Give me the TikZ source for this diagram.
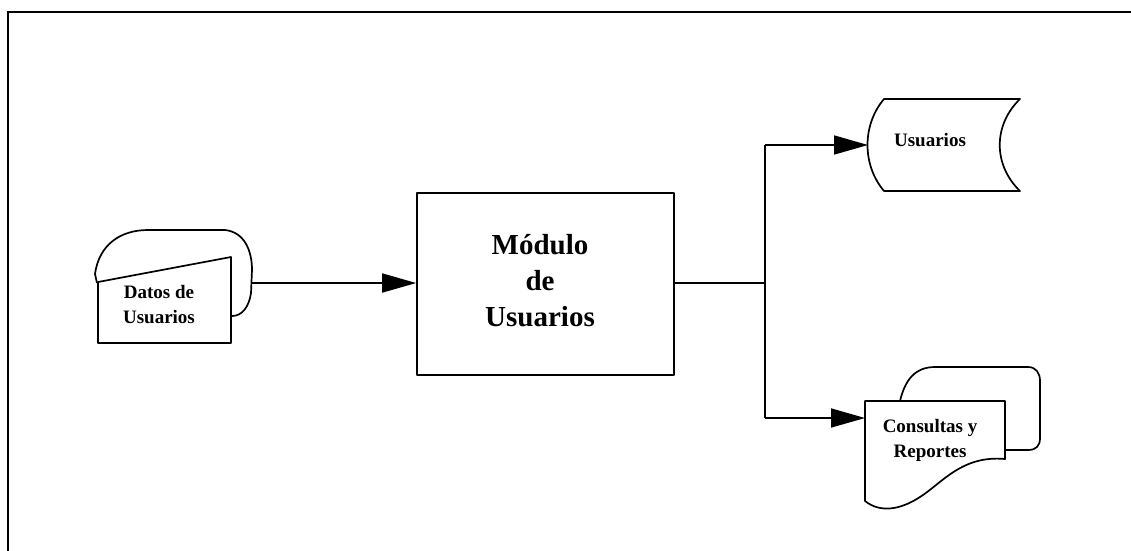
\documentclass[tikz,border=0pt]{standalone}
\usepackage{fontspec}
\setmainfont{Liberation Serif}
\usetikzlibrary{arrows.meta}
\tikzset{
  ln/.style={line width=1.7pt, line join=round},
  arr/.style={ln, -{Triangle[length=34pt,width=19pt]}},
  small/.style={font=\bfseries\fontsize{19}{25}\selectfont, align=center, inner sep=0pt},
  big/.style={font=\bfseries\fontsize{29}{36}\selectfont, align=center, inner sep=0pt},
}
\begin{document}
\begin{tikzpicture}[x=1pt,y=-1pt]
\useasboundingbox (0,0) rectangle (1131,550);
% frame
\draw[line width=1.6pt] (8,560) -- (8,12) -- (1140,12);

% Datos de Usuarios (back card + front manual input)
\draw[ln] (97,283) -- (95,274) .. controls (99,245) and (120,230) .. (148,230) -- (225,230)
  .. controls (244,232) and (252,250) .. (252,270) -- (251,293)
  .. controls (249,307) and (242,316) .. (232,316);
\draw[ln, fill=white] (98,282) -- (231,257) -- (231,343) -- (98,343) -- cycle;
\node[small] (datos) at (159,305) {Datos de\\Usuarios};
\coordinate (datosR) at (252,283);

% Modulo box
\node[draw, ln, minimum width=257pt, minimum height=182pt, inner sep=0pt] (modulo) at (545.5,284) {};
\node[big] (modtxt) at (540,281) {Módulo\\de\\Usuarios};

% Usuarios stored data
\draw[ln] (884,99) -- (1020,99) .. controls (993,125) and (993,165) .. (1020,191)
  -- (884,191) .. controls (862,165) and (862,125) .. cycle;
\node[small] (usutxt) at (930,140) {Usuarios};
\coordinate (usuW) at (868,145);

% Consultas y Reportes (back + front document)
\draw[ln] (900,401) .. controls (905,380) and (915,367) .. (935,367) -- (1028,367)
  .. controls (1036,367) and (1040,373) .. (1040,381) -- (1040,438)
  .. controls (1040,446) and (1036,450) .. (1028,450) -- (1005,450);
\draw[ln, fill=white] (865,401) -- (1005,401) -- (1005,459)
  .. controls (962,455) and (942,483) .. (920,497)
  .. controls (900,510) and (880,513) .. (865,501) -- cycle;
\node[small] (constxt) at (930,440) {Consultas y\\Reportes};
\coordinate (consW) at (865,418);

% connectors
\coordinate (jmid) at (765,283);
\coordinate (jtop) at (765,145);
\coordinate (jbot) at (765,418);
\draw[arr] (datosR) -- (modulo.west |- datosR);
\draw[ln] (modulo.east |- jmid) -- (jmid);
\draw[ln] (jtop) -- (jbot);
\draw[arr] (jtop) -- (usuW);
\draw[arr] (jbot) -- (consW);
\end{tikzpicture}
\end{document}
